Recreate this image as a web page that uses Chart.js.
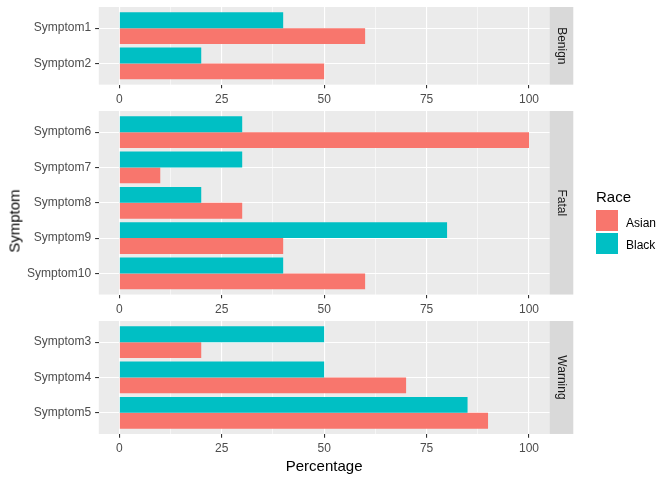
<!DOCTYPE html>
<html><head><meta charset="utf-8">
<script src="https://cdn.jsdelivr.net/npm/chart.js@4/dist/chart.umd.min.js"></script>
<style>
html,body{margin:0;padding:0;background:#fff;}
#wrap{position:relative;width:672px;height:480px;overflow:hidden;font-family:"Liberation Sans",Arial,sans-serif;}
#wrap canvas{position:absolute;left:0;}
.t{position:absolute;white-space:nowrap;line-height:1;}
</style></head><body><div id="wrap"></div>
<script>
// ---- data ----
const seriesNames = ['Asian', 'Black'];
const seriesColors = ['#F8766D', '#00BFC4'];
const facetNames = ['Benign', 'Fatal', 'Warning'];

const benignSymptoms = ['Symptom1', 'Symptom2'];
const benignAsian = [60, 50];
const benignBlack = [40, 20];

const fatalSymptoms = ['Symptom6', 'Symptom7', 'Symptom8', 'Symptom9', 'Symptom10'];
const fatalAsian = [100, 10, 30, 40, 60];
const fatalBlack = [30, 30, 20, 80, 40];

const warningSymptoms = ['Symptom3', 'Symptom4', 'Symptom5'];
const warningAsian = [20, 70, 90];
const warningBlack = [50, 50, 85];

const xTickValues = [0, 25, 50, 75, 100];
const xTickLabels = ['0', '25', '50', '75', '100'];
const xTitle = 'Percentage';
const yTitle = 'Symptom';
const legendTitle = 'Race';

// ---- layout ----
const W = 672;
const PANEL_LEFT = 98.8, PANEL_RIGHT = 549.5, STRIP_W = 23.8;
const UNIT = 35.3, FIRST_TOP = 7.3, GAP = 26.2, PAD_TOP = 16, XAXIS_H = 24;
const FONT = '"Liberation Sans", Arial, sans-serif';

const xMinor = xTickValues.slice(0, -1).map((v, i) => (v + xTickValues[i + 1]) / 2);
const xAllTicks = xTickValues.concat(xMinor).sort((a, b) => a - b);

const facetPlugin = {
  id: 'facet',
  beforeDraw(chart, args, opts) {
    const { ctx, chartArea: a } = chart;
    ctx.save();
    ctx.fillStyle = '#EBEBEB';
    ctx.fillRect(a.left, a.top, a.right - a.left, a.bottom - a.top);
    ctx.fillStyle = '#D9D9D9';
    ctx.fillRect(a.right, a.top, STRIP_W, a.bottom - a.top);
    ctx.translate(a.right + STRIP_W / 2, (a.top + a.bottom) / 2);
    ctx.rotate(Math.PI / 2);
    ctx.fillStyle = '#1A1A1A';
    ctx.font = '12px ' + FONT;
    ctx.textAlign = 'center';
    ctx.textBaseline = 'middle';
    ctx.fillText(opts.label, 0, 0);
    ctx.restore();
  }
};

const wrap = document.getElementById('wrap');
const facets = [
  { name: facetNames[0], cats: benignSymptoms, asian: benignAsian, black: benignBlack },
  { name: facetNames[1], cats: fatalSymptoms, asian: fatalAsian, black: fatalBlack },
  { name: facetNames[2], cats: warningSymptoms, asian: warningAsian, black: warningBlack }
];

let panelTop = FIRST_TOP;
let lastBottom = 0;
facets.forEach((f) => {
  const n = f.cats.length;
  const panelH = (n + 0.2) * UNIT;
  const cv = document.createElement('canvas');
  const h = Math.round(PAD_TOP + panelH + XAXIS_H);
  cv.width = W; cv.height = h;
  cv.style.top = (panelTop - PAD_TOP) + 'px';
  cv.style.width = W + 'px'; cv.style.height = h + 'px';
  wrap.appendChild(cv);
  const xH = h - PAD_TOP - panelH;

  new Chart(cv, {
    type: 'bar',
    data: {
      datasets: [
        { label: seriesNames[1], backgroundColor: seriesColors[1], borderWidth: 0,
          data: f.cats.map((c, i) => ({ x: f.black[i], y: i + 1 })) },
        { label: seriesNames[0], backgroundColor: seriesColors[0], borderWidth: 0,
          data: f.cats.map((c, i) => ({ x: f.asian[i], y: i + 1 })) }
      ]
    },
    options: {
      indexAxis: 'y',
      responsive: false,
      animation: false,
      events: [],
      categoryPercentage: 0.9,
      barPercentage: 1.0,
      layout: { padding: { top: PAD_TOP, left: 0, right: W - PANEL_RIGHT, bottom: 0 } },
      plugins: { legend: { display: false }, tooltip: { enabled: false }, facet: { label: f.name } },
      scales: {
        x: {
          type: 'linear', min: -5, max: 105, offset: false,
          afterBuildTicks: (ax) => { ax.ticks = xAllTicks.map(v => ({ value: v })); },
          afterFit: (ax) => { ax.height = xH; },
          border: { display: false },
          grid: {
            color: '#FFFFFF',
            lineWidth: (c) => (xTickValues.includes(c.tick && c.tick.value) ? 1.1 : 0.55),
            tickColor: (c) => (xTickValues.includes(c.tick && c.tick.value) ? '#333333' : 'rgba(0,0,0,0)'),
            tickLength: 3.7,
            drawTicks: true,
            offset: false
          },
          ticks: {
            autoSkip: false, maxRotation: 0, padding: 4,
            color: '#4D4D4D', font: { family: FONT, size: 12 },
            callback: (v) => { const k = xTickValues.indexOf(v); return k >= 0 ? xTickLabels[k] : ''; }
          }
        },
        y: {
          type: 'linear', min: 0.4, max: n + 0.6, reverse: true, offset: false,
          afterBuildTicks: (ax) => { ax.ticks = f.cats.map((c, i) => ({ value: i + 1 })); },
          afterFit: (ax) => { ax.width = PANEL_LEFT; },
          border: { display: false },
          grid: { color: '#FFFFFF', lineWidth: 1.1, tickColor: '#333333', tickLength: 3.7, offset: false },
          ticks: {
            autoSkip: false, padding: 4,
            color: '#4D4D4D', font: { family: FONT, size: 12 },
            callback: (v) => f.cats[Math.round(v) - 1] || ''
          }
        }
      }
    },
    plugins: [facetPlugin]
  });
  lastBottom = panelTop + panelH;
  panelTop = panelTop + panelH + GAP;
});

function addText(txt, x, y, size, color, rot) {
  const d = document.createElement('div');
  d.className = 't';
  d.textContent = txt;
  d.style.fontSize = size + 'px';
  d.style.color = color;
  d.style.left = x + 'px';
  d.style.top = y + 'px';
  d.style.transform = 'translate(-50%,-50%)' + (rot ? ' rotate(' + rot + 'deg)' : '');
  wrap.appendChild(d);
  return d;
}

// axis titles
addText(xTitle, (PANEL_LEFT + PANEL_RIGHT) / 2, 465, 15, '#000000', 0);
addText(yTitle, 14, (FIRST_TOP + lastBottom) / 2, 15, '#000000', -90);

// legend
const lg = document.createElement('div');
lg.className = 't';
lg.textContent = legendTitle;
lg.style.fontSize = '15px'; lg.style.color = '#000';
lg.style.left = '596px'; lg.style.top = '189px';
wrap.appendChild(lg);
seriesNames.forEach((s, i) => {
  const box = document.createElement('div');
  box.style.position = 'absolute';
  box.style.left = '596px';
  box.style.top = (210 + i * 22.6) + 'px';
  box.style.width = '22px'; box.style.height = '21px';
  box.style.background = seriesColors[i];
  wrap.appendChild(box);
  const l = document.createElement('div');
  l.className = 't';
  l.textContent = s;
  l.style.fontSize = '12px'; l.style.color = '#000';
  l.style.left = '626px';
  l.style.top = (222.7 + i * 22.6 - 6) + 'px';
  wrap.appendChild(l);
});
</script></body></html>
